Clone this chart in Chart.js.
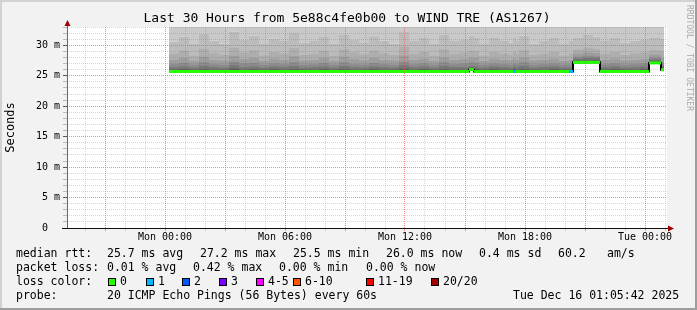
<!DOCTYPE html>
<html>
<head>
<meta charset="utf-8">
<script src="https://cdn.jsdelivr.net/npm/chart.js@4.4.1/dist/chart.umd.min.js"></script>
<style>
  html, body { margin: 0; padding: 0; background: #f2f2f2; }
  #wrap { width: 697px; height: 310px; position: relative; }
</style>
</head>
<body>
<div id="wrap"><canvas id="chart"></canvas></div>
<script>
/* ── Data (hours relative to Mon 00:00) ─────────────────────────────── */
const viewStart = -4.9;
const viewEnd = 25.1;
const dataEnd = 24.95;

const binStart = [
  0.2, 0.7, 1.2, 1.7, 2.2, 2.7, 3.2, 3.7, 4.2, 4.7,
  5.2, 5.7, 6.2, 6.7, 7.2, 7.7, 8.2, 8.7, 9.2, 9.7,
  10.2, 10.7, 11.2, 11.7, 12.2, 12.7, 13.2, 13.7, 14.2, 14.7,
  15.2, 15.45, 15.7, 16.2, 16.7, 17.2, 17.4, 17.55, 17.7, 18.2,
  18.7, 19.2, 19.7, 20.2, 20.4, 20.9, 21.4, 21.75, 22.25, 22.75,
  23.25, 23.75, 24.2, 24.8,
];

// median rtt in ms
const medianRtt = [
  25.7, 25.7, 25.7, 25.7, 25.7, 25.7, 25.7, 25.7, 25.7, 25.7,
  25.7, 25.7, 25.7, 25.7, 25.7, 25.7, 25.7, 25.7, 25.7, 25.7,
  25.7, 25.7, 25.7, 25.7, 25.7, 25.7, 25.7, 25.7, 25.7, 25.7,
  26.0, 25.7, 25.7, 25.7, 25.7, 25.7, 25.7, 25.7, 25.7, 25.7,
  25.7, 25.7, 25.7, 25.7, 27.2, 27.2, 27.2, 25.7, 25.7, 25.7,
  25.7, 25.7, 27.1, 26.0,
];

// lost pings per bin (index into loss colours)
const lossIdx = [
  0, 0, 0, 0, 0, 0, 0, 0, 0, 0,
  0, 0, 0, 0, 0, 0, 0, 0, 0, 0,
  0, 0, 0, 0, 0, 0, 0, 0, 0, 0,
  0, 0, 0, 0, 0, 0, 1, 0, 0, 0,
  0, 0, 0, 1, 0, 0, 0, 0, 0, 0,
  0, 0, 0, 0,
];

// smoke band upper edges (ms), darkest first
const smoke1 = [
  26.0, 26.1, 26.0, 26.1, 26.0, 26.0, 26.2, 26.0, 26.1, 26.0,
  26.1, 26.0, 26.1, 26.0, 26.0, 26.1, 26.0, 26.1, 26.0, 26.0,
  26.1, 26.0, 26.0, 26.2, 26.0, 26.1, 26.0, 26.1, 26.0, 26.0,
  26.3, 26.1, 26.0, 26.1, 26.0, 26.0, 26.1, 26.0, 26.1, 26.0,
  26.0, 26.1, 26.0, 26.0, 27.5, 27.5, 27.6, 26.0, 26.1, 26.0,
  26.0, 26.1, 27.4, 26.3,
];
const smoke2 = [
  26.4, 26.5, 26.3, 26.6, 26.4, 26.3, 26.7, 26.4, 26.5, 26.3,
  26.5, 26.4, 26.6, 26.3, 26.4, 26.5, 26.3, 26.6, 26.4, 26.3,
  26.5, 26.4, 26.3, 26.7, 26.4, 26.5, 26.3, 26.6, 26.4, 26.4,
  26.6, 26.5, 26.3, 26.5, 26.4, 26.3, 26.5, 26.4, 26.6, 26.3,
  26.4, 26.5, 26.3, 26.4, 27.8, 27.9, 27.9, 26.4, 26.5, 26.3,
  26.4, 26.5, 27.7, 26.6,
];
const smoke3 = [
  26.9, 27.1, 26.8, 27.2, 26.9, 26.8, 27.3, 27.0, 27.1, 26.8,
  27.0, 26.9, 27.2, 26.8, 26.9, 27.1, 26.8, 27.2, 26.9, 26.8,
  27.1, 26.9, 26.8, 27.3, 26.9, 27.0, 26.8, 27.2, 26.9, 27.0,
  27.2, 27.1, 26.8, 27.0, 26.9, 26.8, 27.0, 26.9, 27.2, 26.8,
  26.9, 27.0, 26.8, 26.9, 28.1, 28.3, 28.2, 26.9, 27.0, 26.8,
  26.9, 27.0, 28.0, 27.1,
];
const smoke4 = [
  27.6, 27.9, 27.4, 28.1, 27.6, 27.5, 28.3, 27.7, 27.9, 27.4,
  27.8, 27.6, 28.2, 27.5, 27.6, 27.9, 27.4, 28.1, 27.7, 27.5,
  27.9, 27.6, 27.5, 28.3, 27.6, 27.8, 27.4, 28.0, 27.6, 27.7,
  28.0, 27.9, 27.4, 27.8, 27.6, 27.5, 27.8, 27.6, 28.0, 27.5,
  27.6, 27.8, 27.4, 27.6, 28.6, 28.8, 28.7, 27.6, 27.8, 27.5,
  27.6, 27.7, 28.5, 27.9,
];
const smoke5 = [
  28.6, 29.1, 28.3, 29.4, 28.7, 28.4, 29.6, 28.8, 29.2, 28.3,
  28.9, 28.6, 29.5, 28.4, 28.6, 29.1, 28.3, 29.3, 28.8, 28.5,
  29.1, 28.7, 28.4, 29.7, 28.6, 28.9, 28.3, 29.3, 28.6, 28.8,
  29.2, 29.0, 28.3, 28.9, 28.6, 28.4, 28.9, 28.6, 29.2, 28.4,
  28.6, 28.9, 28.3, 28.6, 29.3, 29.6, 29.4, 28.6, 28.9, 28.4,
  28.7, 28.8, 29.2, 29.0,
];
const smoke6 = [
  30.6, 31.4, 30.2, 31.9, 30.8, 30.3, 32.2, 30.9, 31.6, 30.2,
  31.1, 30.7, 32.0, 30.4, 30.7, 31.5, 30.2, 31.8, 31.0, 30.5,
  31.5, 30.8, 30.3, 32.3, 30.7, 31.2, 30.2, 31.8, 30.7, 31.0,
  31.6, 31.3, 30.2, 31.2, 30.7, 30.4, 31.2, 30.7, 31.6, 30.3,
  30.7, 31.2, 30.2, 30.7, 31.2, 31.7, 31.4, 30.7, 31.2, 30.4,
  30.8, 31.0, 31.3, 31.1,
];

const xTickHours = [0, 6, 12, 18, 24];
const xTickLabels = ['Mon 00:00', 'Mon 06:00', 'Mon 12:00', 'Mon 18:00', 'Tue 00:00'];
const yTickValues = [0, 5, 10, 15, 20, 25, 30];
const yTickLabels = ['0', '5 m', '10 m', '15 m', '20 m', '25 m', '30 m'];

const lossLabels = ['0', '1', '2', '3', '4-5', '6-10', '11-19', '20/20'];
const lossColors = ['#26ff00', '#00b8ff', '#0059ff', '#7e00ff', '#ff00ff', '#ff5500', '#ff0000', '#a10000'];

const title = 'Last 30 Hours from 5e88c4fe0b00 to WIND TRE (AS1267)';
const rttStats = ['25.7 ms avg', '27.2 ms max', '25.5 ms min', '26.0 ms now', '0.4 ms sd', '60.2', 'am/s'];
const lossStats = ['0.01 % avg', '0.42 % max', '0.00 % min', '0.00 % now'];
const probeText = '20 ICMP Echo Pings (56 Bytes) every 60s';
const stampText = 'Tue Dec 16 01:05:42 2025';

/* ── Helpers ─────────────────────────────────────────────────────────── */
const MONO = "'DejaVu Sans Mono', monospace";
Chart.defaults.color = '#000';
Chart.defaults.font.family = MONO;

function stepPoints(values) {
    const pts = binStart.map((t, i) => ({ x: t, y: values[i] }));
    pts.push({ x: dataEnd, y: values[values.length - 1] });
    return pts;
}

// green median: one horizontal piece per bin, coloured by loss
const medianPieces = [];
binStart.forEach((t, i) => {
    const end = i + 1 < binStart.length ? binStart[i + 1] : dataEnd;
    medianPieces.push({ x: t, y: medianRtt[i], loss: lossIdx[i] });
    medianPieces.push({ x: end, y: medianRtt[i], loss: lossIdx[i] });
    medianPieces.push({ x: end, y: null });
});

const smokeColors = ['#5e5e5e', '#767676', '#8a8a8a', '#9d9d9d', '#aeaeae', '#bcbcbc', '#c9c9c9'];

function band(values, color, fill) {
    return {
        data: stepPoints(values),
        stepped: true,
        borderWidth: 0,
        pointRadius: 0,
        backgroundColor: color,
        fill,
    };
}

const minorGrid = 'rgba(90, 90, 90, 0.25)';
const majorGrid = 'rgba(255, 70, 70, 0.65)';

/* ── Decorations: frame, axes, title, legend ─────────────────────────── */
const rrdFrame = {
    id: 'rrdFrame',
    beforeDraw(chart) {
        const { ctx, chartArea: a, width, height } = chart;
        ctx.save();
        ctx.fillStyle = '#f2f2f2';
        ctx.fillRect(0, 0, width, height);
        ctx.fillStyle = '#d2d2d2';
        ctx.fillRect(0, 0, width, 2);
        ctx.fillRect(0, 0, 2, height);
        ctx.fillStyle = '#9e9e9e';
        ctx.fillRect(0, height - 2, width, 2);
        ctx.fillRect(width - 2, 0, 2, height);
        ctx.fillStyle = '#fff';
        ctx.fillRect(a.left, a.top, a.right - a.left, a.bottom - a.top);
        ctx.restore();
    },
    afterDraw(chart) {
        const { ctx, chartArea: a } = chart;
        ctx.save();

        // axes + arrows
        ctx.fillStyle = '#666';
        ctx.fillRect(a.left, 22, 1, a.bottom - 21);
        ctx.fillStyle = '#111';
        ctx.fillRect(a.left - 5, a.bottom, a.right - a.left + 9, 1);
        ctx.fillStyle = '#a00000';
        ctx.beginPath();
        ctx.moveTo(a.left + 0.5, 20);
        ctx.lineTo(a.left + 3.5, 26);
        ctx.lineTo(a.left - 2.5, 26);
        ctx.closePath();
        ctx.fill();
        ctx.beginPath();
        ctx.moveTo(a.right + 7, a.bottom + 0.5);
        ctx.lineTo(a.right + 1, a.bottom - 2.5);
        ctx.lineTo(a.right + 1, a.bottom + 3.5);
        ctx.closePath();
        ctx.fill();

        // title
        ctx.fillStyle = '#000';
        ctx.font = `13px ${MONO}`;
        ctx.textAlign = 'center';
        ctx.textBaseline = 'middle';
        ctx.fillText(title, 347, 19);

        // legend rows
        ctx.font = `11.5px ${MONO}`;
        ctx.textAlign = 'left';
        ctx.fillText('median rtt:', 16, 254);
        [107, 200, 293, 386, 479, 558, 607].forEach((x, i) => ctx.fillText(rttStats[i], x, 254));
        ctx.fillText('packet loss:', 16, 268);
        [107, 193, 279, 366].forEach((x, i) => ctx.fillText(lossStats[i], x, 268));
        ctx.fillText('loss color:', 16, 282);
        [108, 146, 182, 219, 256, 293, 366, 431].forEach((x, i) => {
            ctx.fillStyle = lossColors[i];
            ctx.fillRect(x, 278, 8, 8);
            ctx.strokeStyle = '#000';
            ctx.lineWidth = 1;
            ctx.strokeRect(x + 0.5, 278.5, 7, 7);
            ctx.fillStyle = '#000';
            ctx.fillText(lossLabels[i], x + 12, 282);
        });
        ctx.fillText('probe:', 16, 296);
        ctx.fillText(probeText, 107, 296);
        ctx.fillText(stampText, 513, 296);

        // side credit
        ctx.translate(689, 5);
        ctx.rotate(Math.PI / 2);
        ctx.fillStyle = '#aaa';
        ctx.font = `8px ${MONO}`;
        ctx.fillText('RRDTOOL / TOBI OETIKER', 0, 0);
        ctx.restore();
    },
};

/* ── Chart ───────────────────────────────────────────────────────────── */
new Chart(document.getElementById('chart'), {
    type: 'line',
    data: {
        datasets: [
            {
                data: medianPieces,
                borderWidth: 3,
                pointRadius: 0,
                spanGaps: false,
                borderColor: lossColors[0],
                segment: {
                    borderColor: c => lossColors[medianPieces[c.p0DataIndex].loss || 0],
                },
            },
            {
                data: stepPoints(medianRtt),
                stepped: true,
                borderWidth: 2,
                borderColor: '#000',
                pointRadius: 0,
            },
            band(smoke1, smokeColors[0], 1),
            band(smoke2, smokeColors[1], 1),
            band(smoke3, smokeColors[2], 1),
            band(smoke4, smokeColors[3], 1),
            band(smoke5, smokeColors[4], 1),
            band(smoke6, smokeColors[5], 1),
            band(smoke6, smokeColors[6], 'end'),
        ],
    },
    options: {
        responsive: true,
        maintainAspectRatio: false,
        animation: false,
        devicePixelRatio: 1,
        layout: { padding: { left: 0, top: 27, right: 30, bottom: 66 } },
        plugins: {
            legend: { display: false },
            tooltip: { enabled: false },
        },
        scales: {
            x: {
                type: 'linear',
                min: viewStart,
                max: viewEnd,
                afterBuildTicks: scale => {
                    const ticks = [];
                    for (let h = -4; h <= 25; h++) ticks.push({ value: h });
                    scale.ticks = ticks;
                },
                afterFit: scale => { scale.height = 16; },
                ticks: {
                    autoSkip: false,
                    maxRotation: 0,
                    padding: 0,
                    font: { size: 10 },
                    callback: v => {
                        const i = xTickHours.indexOf(v);
                        return i >= 0 ? xTickLabels[i] : '';
                    },
                },
                grid: {
                    z: 1,
                    tickLength: 3,
                    color: c => (c.tick && c.tick.value % 3 === 0 ? majorGrid : minorGrid),
                    tickColor: c => (c.tick && c.tick.value % 3 === 0 ? majorGrid : minorGrid),
                },
                border: { display: false, dash: [1, 1] },
            },
            y: {
                min: 0,
                max: 33,
                afterFit: scale => { scale.width = 67; },
                ticks: {
                    stepSize: 1,
                    autoSkip: false,
                    padding: 3,
                    font: { size: 10 },
                    callback: v => {
                        const i = yTickValues.indexOf(v);
                        return i >= 0 ? yTickLabels[i].padEnd(3) : '';
                    },
                },
                grid: {
                    z: 1,
                    tickLength: 4,
                    color: c => (c.tick && c.tick.value % 5 === 0 ? majorGrid : minorGrid),
                    tickColor: c => (c.tick && c.tick.value % 5 === 0 ? '#555' : '#bbb'),
                },
                border: { display: false, dash: [1, 1] },
                title: {
                    display: true,
                    text: 'Seconds',
                    font: { size: 12 },
                    padding: { top: 4, bottom: 0 },
                },
            },
        },
    },
    plugins: [rrdFrame],
});
</script>
</body>
</html>
